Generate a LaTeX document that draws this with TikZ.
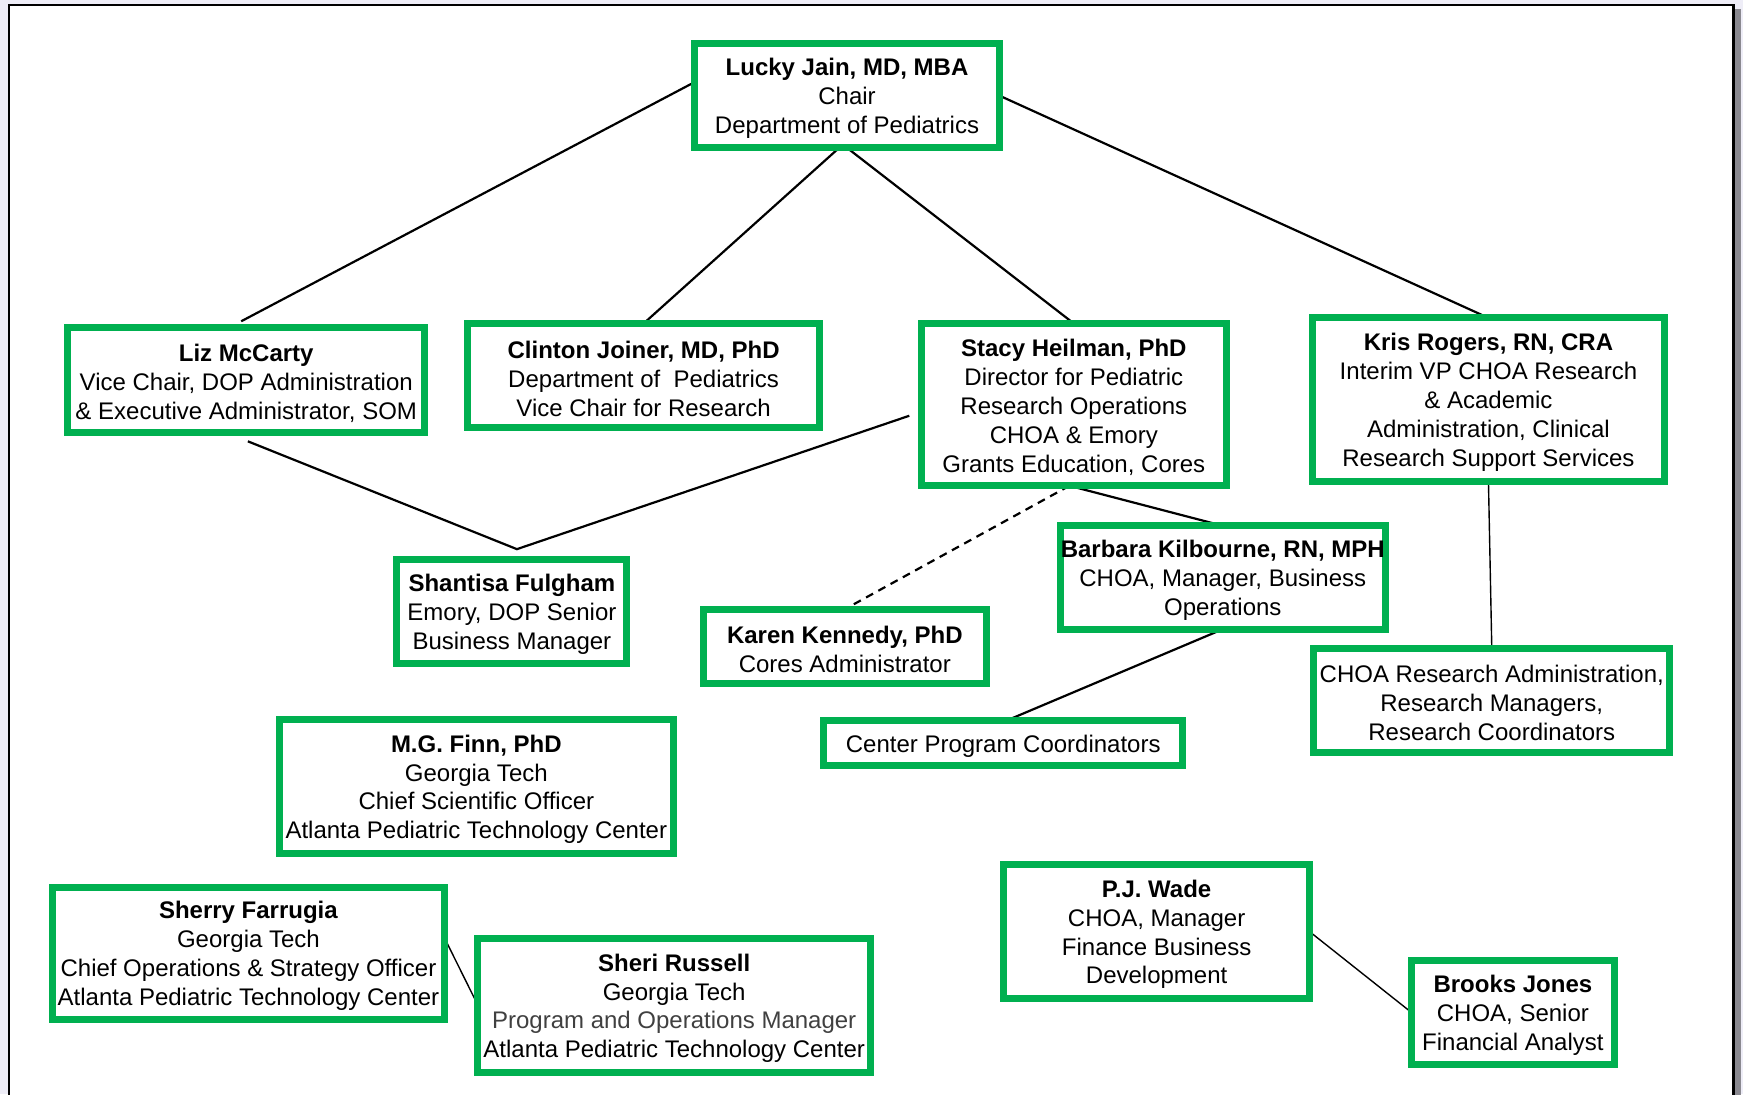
\documentclass[tikz,border=0pt]{standalone}
\usepackage{fontspec}
\setmainfont{Liberation Sans}
\usetikzlibrary{fit,calc}
\definecolor{boxgreen}{RGB}{0,176,80}
\definecolor{lavender}{RGB}{238,237,247}
\definecolor{shadowgray}{RGB}{138,137,144}
\definecolor{darktext}{RGB}{64,64,64}
\pgfdeclarelayer{framelayer}
\pgfdeclarelayer{linelayer}
\pgfsetlayers{framelayer,linelayer,main}
\tikzset{
  box/.style={draw=boxgreen, line width=3.5pt, fill=white, inner sep=0pt, outer sep=0pt},
  boxtext/.style={align=center, inner sep=0pt, yshift=-1.4pt, font=\fontsize{12}{14.45}\selectfont},
  conn/.style={draw=black, line width=1.1pt},
  thinconn/.style={draw=black, line width=0.7pt},
  dashconn/.style={draw=black, line width=1.1pt, dash pattern=on 4pt off 3pt}
}
\begin{document}
\begin{tikzpicture}[x=0.5558pt, y=-0.5558pt]
\useasboundingbox (0,0) rectangle (1568,984.2);
\begin{pgfonlayer}{framelayer}
  \fill[lavender] (0,0) rectangle (1568,984.2);
  \fill[shadowgray] (1560,8) rectangle (1566,1000);
  \draw[fill=white, line width=1.3pt] (8,4.5) rectangle (1559.6,1010);
\end{pgfonlayer}

\node[box, fit={(625,39) (899,133)}, label={[boxtext]center:{\textbf{Lucky Jain, MD, MBA}\\Chair\\Department of Pediatrics}}] (lucky) {};
\node[box, fit={(61,295) (382,389)}, label={[boxtext]center:{\textbf{Liz McCarty}\\Vice Chair, DOP Administration\\\& Executive Administrator, SOM}}] (liz) {};
\node[box, fit={(421,291) (737,385)}, label={[boxtext]center:{\textbf{Clinton Joiner, MD, PhD}\\Department of~ Pediatrics\\Vice Chair for Research}}] (clinton) {};
\node[box, fit={(829,291) (1103,437)}, label={[boxtext]center:{\textbf{Stacy Heilman, PhD}\\Director for Pediatric\\Research Operations\\CHOA \& Emory\\Grants Education, Cores}}] (stacy) {};
\node[box, fit={(1181,286) (1497,433)}, label={[boxtext]center:{\textbf{Kris Rogers, RN, CRA}\\Interim VP CHOA Research\\\& Academic\\Administration, Clinical\\Research Support Services}}] (kris) {};
\node[box, fit={(357,503) (564,597)}, label={[boxtext]center:{\textbf{Shantisa Fulgham}\\Emory, DOP Senior\\Business Manager}}] (shan) {};
\node[box, fit={(633,548) (887,615)}, label={[boxtext]center:{\textbf{Karen Kennedy, PhD}\\Cores Administrator}}] (karen) {};
\node[box, fit={(954,473) (1246,566)}, label={[boxtext]center:{\textbf{Barbara Kilbourne, RN, MPH}\\CHOA, Manager, Business\\Operations}}] (barbara) {};
\node[box, fit={(1182,583) (1502,677)}, label={[boxtext]center:{CHOA Research Administration,\\Research Managers,\\Research Coordinators}}] (choa) {};
\node[box, fit={(741,648) (1064,689)}, label={[boxtext]center:{Center Program Coordinators}}] (cpc) {};
\node[box, fit={(251,647) (606,768)}, label={[boxtext]center:{\textbf{M.G. Finn, PhD}\\Georgia Tech\\Chief Scientific Officer\\Atlanta Pediatric Technology Center}}] (finn) {};
\node[box, fit={(47,798) (400,917)}, label={[boxtext]center:{\textbf{Sherry Farrugia}\\Georgia Tech\\Chief Operations \& Strategy Officer\\Atlanta Pediatric Technology Center}}] (sherry) {};
\node[box, fit={(430,844) (783,965)}, label={[boxtext]center:{\textbf{Sheri Russell}\\Georgia Tech\\\textcolor{darktext}{Program and Operations Manager}\\Atlanta Pediatric Technology Center}}] (sheri) {};
\node[box, fit={(903,778) (1178,898)}, label={[boxtext]center:{\textbf{P.J. Wade}\\CHOA, Manager\\Finance Business\\Development}}] (pj) {};
\node[box, fit={(1270,864) (1452,958)}, label={[boxtext]center:{\textbf{Brooks Jones}\\CHOA, Senior\\Financial Analyst}}] (brooks) {};

\coordinate (apex) at ($(shan.north)+(4.5,-9)$);
\begin{pgfonlayer}{linelayer}
  \draw[conn] ($(lucky.north west)!0.37!(lucky.south west)$) -- ($(liz.north west)!0.486!(liz.north east)+(0,-6)$);
  \draw[conn] ($(lucky.south west)!0.474!(lucky.south east)$) -- (clinton.north);
  \draw[conn] (lucky.south) -- (stacy.north);
  \draw[conn] (lucky.east) -- (kris.north);
  \draw[conn] ($(liz.south)+(1.5,8)$) -- (apex) -- ($(stacy.west)+(-11,10)$);
  \draw[dashconn] ($(stacy.south)+(-4,0)$) -- (karen.north);
  \draw[conn] ($(stacy.south)+(-4,0)$) -- (barbara.north);
  \draw[conn] (barbara.south) -- ($(cpc.north)+(3.5,0)$);
  \draw[thinconn] (kris.south) -- (choa.north);
  \draw[thinconn] ($(sherry.east)+(0,-13.5)$) -- (sheri.west);
  \draw[thinconn] (pj.east) -- (brooks.west);
\end{pgfonlayer}
\end{tikzpicture}
\end{document}
